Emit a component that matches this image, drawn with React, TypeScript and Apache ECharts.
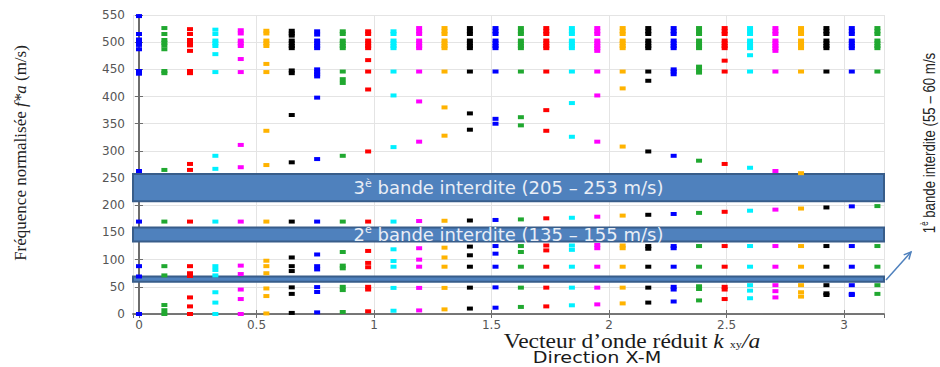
import React, { useEffect, useRef } from "react";
import * as echarts from "echarts";

// Reduced wave vector k (X-M direction), 30 samples from 0 to pi
const kValues = [
  0, 0.108, 0.217, 0.325, 0.433, 0.542, 0.65, 0.758, 0.867, 0.975,
  1.083, 1.192, 1.3, 1.408, 1.517, 1.625, 1.733, 1.842, 1.95, 2.058,
  2.167, 2.275, 2.383, 2.492, 2.6, 2.708, 2.817, 2.925, 3.033, 3.142,
];

// Normalised frequencies (m/s) at each k
const c00 = [0, 69, 88, 170, 263, 442, 447, 487, 495, 500, 505, 515, 548];
const c01 = [0, 7, 16.5, 71, 88, 170, 265, 443, 447, 487, 494, 499, 504, 515, 526];
const c02 = [0, 14, 30.5, 70, 75, 88, 170, 265, 276, 443, 447, 484, 494, 499, 504, 515, 524];
const c03 = [0, 21, 40, 71, 81, 88, 170, 267, 291, 445, 478, 493, 498, 503, 515, 523];
const c04 = [0, 27.5, 45, 73.5, 89, 170, 270, 311, 445, 469, 493, 498, 503, 516, 522];
const c05 = [1, 33, 47, 75, 88, 98, 170, 274, 337, 445, 460, 493, 498, 503, 516, 521];
const c06 = [2, 37, 49, 79, 88, 104, 170, 279, 366, 443, 448, 489, 493, 498, 503, 512, 516, 521];
const c07 = [3, 40.5, 49.5, 82, 88, 109.5, 170, 285, 398, 437, 441, 445, 450, 489, 493, 498, 503, 514, 520];
const c08 = [3.7, 44, 50, 84, 89, 114, 170, 291, 425, 432, 446, 489, 493, 498, 503, 515, 520];
const c09 = [5, 45, 50, 86, 94, 116, 170, 299, 413, 446, 467, 489, 493, 498, 503, 515, 520];
const c10 = [6, 48, 87, 97.5, 119, 170, 307, 402, 446, 489, 493, 498, 503, 515, 520];
const c11 = [6.6, 48, 87, 100, 121, 171, 317, 391, 446, 489, 493, 498, 503, 515, 520, 526];
const c12 = [8.5, 48, 87, 104, 122, 171.5, 328, 380, 446, 489, 493, 498, 503, 515, 520, 526];
const c13 = [10, 48.5, 87, 108, 124, 172, 339, 369, 446, 489, 493, 498, 503, 515, 520, 526];
const c14 = [11.6, 49, 87, 111, 125, 173, 350, 359, 446, 489, 493, 498, 503, 515, 520, 526];
const c15 = [13, 48.5, 87, 114, 125, 174, 347, 362, 446, 489, 493, 498, 503, 515, 520, 526];
const c16 = [14, 48.5, 87, 117, 126, 176, 337, 375, 446, 489, 493, 498, 503, 515, 520, 526];
const c17 = [16, 48.5, 87, 118, 126, 177, 326, 388, 446, 489, 493, 498, 503, 515, 520, 526];
const c18 = [17.7, 48.5, 87, 121, 127, 179, 317, 402, 446, 484, 489, 493, 498, 503, 515, 520, 526];
const c19 = [19.5, 48.5, 87, 121, 126, 181, 308, 415, 446, 489, 493, 498, 503, 515, 520, 526];
const c20 = [21, 48.5, 87, 120, 125, 182.5, 299, 429, 446, 489, 493, 498, 503, 515, 520, 526];
const c21 = [23, 45, 50, 87, 121, 125, 184, 291, 441, 446, 450, 489, 493, 498, 503, 515, 520, 526];
const c22 = [25, 46, 51, 87, 125, 186, 282, 444, 450, 455, 489, 493, 498, 503, 515, 520, 526];
const c23 = [27.5, 45, 50, 87, 125, 188, 276, 446, 466, 489, 493, 498, 503, 515, 520, 526];
const c24 = [29, 43, 53, 87, 125, 190, 269, 446, 476, 489, 493, 498, 503, 515, 520, 526];
const c25 = [30.5, 42, 53, 87, 125, 192, 263, 446, 484, 489, 493, 498, 503, 515, 520, 526];
const c26 = [32, 40, 53, 87, 125, 194, 259, 446, 489, 493, 498, 503, 515, 520, 526];
const c27 = [35, 38, 53, 87, 125, 196, 446, 489, 493, 498, 503, 515, 520, 526];
const c28 = [35, 37, 53, 87, 125, 198, 446, 489, 493, 498, 503, 515, 520, 526];
const c29 = [37, 53, 87, 125, 198.5, 446, 489, 493, 498, 503, 515, 520, 526];

const columns = [
  c00, c01, c02, c03, c04, c05, c06, c07, c08, c09,
  c10, c11, c12, c13, c14, c15, c16, c17, c18, c19,
  c20, c21, c22, c23, c24, c25, c26, c27, c28, c29,
];

// colour cycle of the k samples
const palette = ["#0000ff", "#20a830", "#ff0000", "#00f0ff", "#ff00ff", "#ffb300", "#000000"];

// band gaps (drawn extents, m/s) and their labels
const gapLow = [59.5, 133.5, 207.5];
const gapHigh = [69, 159, 257.5];
const gapLabels = [
  "",
  "2{sup|è} bande interdite (135 – 155 m/s)",
  "3{sup|è} bande interdite (205 – 253 m/s)",
];

const xMin = -0.0255;
const xMax = 3.17;
const yMin = 0;
const yMax = 550;
const yStep = 50;

export default function App() {
  const ref = useRef<HTMLDivElement>(null);

  useEffect(() => {
    if (!ref.current) return;
    const chart = echarts.init(ref.current, undefined, { renderer: "svg" });

    const labelStyle = {
      color: "#555",
      fontFamily: "DejaVu Sans",
      fontSize: 12,
    };
    const axisLineStyle = { lineStyle: { color: "#6e6e6e", width: 1.5 } };
    const tickStyle = { inside: true, length: 4, lineStyle: { color: "#6e6e6e" } };
    const splitStyle = { show: true, lineStyle: { color: "#e4e4e4", width: 1 } };

    const series: any[] = columns.map((vals, i) => ({
      type: "scatter",
      symbol: "rect",
      symbolSize: [6, 4],
      silent: true,
      itemStyle: { color: palette[i % palette.length], opacity: 1 },
      data: vals.map((v) => [kValues[i], v]),
    }));

    series.push({
      type: "scatter",
      data: [],
      z: 10,
      markArea: {
        silent: true,
        itemStyle: {
          color: "#4f81bd",
          borderColor: "#385d8a",
          borderWidth: 2,
          opacity: 1,
        },
        label: {
          show: true,
          position: "inside",
          color: "#e9eef6",
          fontFamily: "DejaVu Sans",
          fontSize: 18,
          lineHeight: 20,
          rich: {
            sup: {
              color: "#e9eef6",
              fontFamily: "DejaVu Sans",
              fontSize: 11,
              lineHeight: 12,
              verticalAlign: "top",
            },
          },
        },
        data: gapLow.map((lo, i) => [
          { xAxis: xMin, yAxis: lo, name: gapLabels[i] },
          { xAxis: xMax, yAxis: gapHigh[i] },
        ]),
      },
    });

    const option: any = {
      animation: false,
      backgroundColor: "#ffffff",
      grid: { left: 133, right: 56, top: 15, bottom: 53, containLabel: false },
      xAxis: [
        {
          type: "value",
          min: xMin,
          max: xMax,
          splitNumber: 6,
          position: "bottom",
          axisLine: axisLineStyle,
          axisTick: tickStyle,
          splitLine: splitStyle,
          axisLabel: { ...labelStyle, margin: 5, showMinLabel: false, showMaxLabel: false },
        },
        {
          type: "value",
          min: xMin,
          max: xMax,
          splitNumber: 6,
          position: "top",
          axisLine: axisLineStyle,
          axisTick: tickStyle,
          splitLine: { show: false },
          axisLabel: { show: false },
        },
      ],
      yAxis: [
        {
          type: "value",
          min: yMin,
          max: yMax,
          interval: yStep,
          position: "left",
          axisLine: { show: true, lineStyle: { color: "#6e6e6e", width: 2 } },
          axisTick: tickStyle,
          splitLine: splitStyle,
          axisLabel: { ...labelStyle, margin: 8 },
        },
        {
          type: "value",
          min: yMin,
          max: yMax,
          interval: yStep,
          position: "right",
          axisLine: { show: true, lineStyle: { color: "#6e6e6e", width: 1.5 } },
          axisTick: tickStyle,
          splitLine: { show: false },
          axisLabel: { show: false },
        },
      ],
      series,
      graphic: [
        {
          type: "text",
          x: 20,
          y: 153,
          rotation: Math.PI / 2,
          silent: true,
          style: {
            text: "Fréquence normalisée {i|f*a} (m/s)",
            fill: "#222",
            fontFamily: "Liberation Serif",
            fontSize: 17,
            align: "center",
            verticalAlign: "middle",
            rich: {
              i: { fontFamily: "Liberation Serif", fontSize: 17, fontStyle: "italic", fill: "#222" },
            },
          },
        },
        {
          type: "text",
          x: 929,
          y: 143,
          rotation: Math.PI / 2,
          scaleX: 0.78,
          silent: true,
          style: {
            text: "1{sup|è} bande interdite (55 – 60 m/s",
            fill: "#222",
            fontFamily: "Liberation Sans",
            fontSize: 17,
            lineHeight: 18,
            align: "center",
            verticalAlign: "middle",
            rich: {
              sup: {
                fill: "#222",
                fontFamily: "Liberation Sans",
                fontSize: 10,
                lineHeight: 10,
                verticalAlign: "top",
              },
            },
          },
        },
        {
          type: "line",
          silent: true,
          shape: { x1: 886, y1: 280, x2: 911, y2: 252 },
          style: { stroke: "#4f81bd", lineWidth: 1.5 },
        },
        {
          type: "polyline",
          silent: true,
          shape: { points: [[908.9, 259.5], [911, 252], [903.7, 254.9]] },
          style: { stroke: "#4f81bd", lineWidth: 1.5, fill: null },
        },
        {
          type: "text",
          x: 632,
          y: 341,
          scaleX: 1.12,
          silent: true,
          style: {
            text: "Vecteur d’onde réduit {i|k} {sub|xy}{i|/a}",
            fill: "#1a1a1a",
            fontFamily: "Liberation Serif",
            fontSize: 21,
            lineHeight: 19,
            align: "center",
            verticalAlign: "middle",
            rich: {
              i: { fontFamily: "Liberation Serif", fontSize: 21, fontStyle: "italic", fill: "#1a1a1a", lineHeight: 19 },
              sub: { fontFamily: "Liberation Serif", fontSize: 11, fill: "#1a1a1a", lineHeight: 8, verticalAlign: "bottom" },
            },
          },
        },
        {
          type: "text",
          x: 597,
          y: 358,
          scaleX: 1.2,
          silent: true,
          style: {
            text: "Direction X-M",
            fill: "#1a1a1a",
            fontFamily: "DejaVu Sans",
            fontSize: 16,
            lineHeight: 16,
            align: "center",
            verticalAlign: "middle",
          },
        },
      ],
    };

    chart.setOption(option);
    return () => chart.dispose();
  }, []);

  return (
    <div
      ref={ref}
      style={{ position: "absolute", left: 0, top: 0, width: 940, height: 367 }}
    />
  );
}
